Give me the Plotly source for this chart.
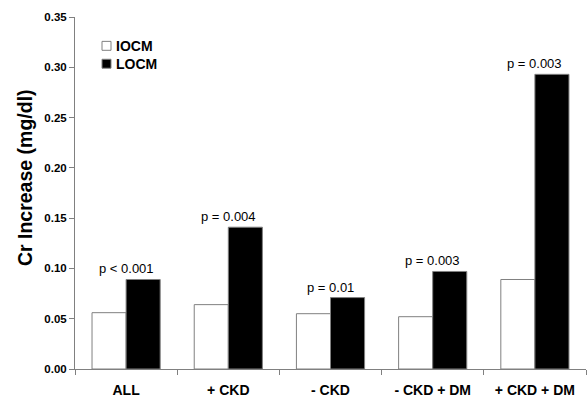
import plotly.graph_objects as go

categories = ["ALL", "+ CKD", "- CKD", "- CKD + DM", "+ CKD + DM"]
iocm = [0.056, 0.064, 0.055, 0.052, 0.089]
locm = [0.089, 0.141, 0.071, 0.097, 0.293]
p_labels = ["p < 0.001", "p = 0.004", "p = 0.01", "p = 0.003", "p = 0.003"]
series_names = ["IOCM", "LOCM"]
y_ticks = [0.0, 0.05, 0.10, 0.15, 0.20, 0.25, 0.30, 0.35]

FONT = "Liberation Sans, Arial, sans-serif"
GREY = "#808080"

fig = go.Figure()
fig.add_trace(go.Bar(x=categories, y=iocm, name=series_names[0],
                     marker=dict(color="white", line=dict(color=GREY, width=1)),
                     showlegend=False))
fig.add_trace(go.Bar(x=categories, y=locm, name=series_names[1],
                     marker=dict(color="black", line=dict(color=GREY, width=1)),
                     showlegend=False))

for c, v, t in zip(categories, locm, p_labels):
    fig.add_annotation(x=c, y=v, xref="x", yref="y", text=t, showarrow=False,
                       yanchor="bottom", yshift=1,
                       font=dict(family=FONT, size=13, color="black"))

# custom legend
L, R, T, B = 75, 586, 17, 371
W, H = R - L, B - T
def px(x):
    return (x - L) / W
def py(y):
    return (B - y) / H

legend_fill = ["white", "black"]
for i, (name, fill) in enumerate(zip(series_names, legend_fill)):
    cy = 46 + i * 18
    fig.add_shape(type="rect", xref="paper", yref="paper",
                  x0=px(102), x1=px(111), y0=py(cy + 4.5), y1=py(cy - 4.5),
                  fillcolor=fill, line=dict(color=GREY, width=1))
    fig.add_annotation(xref="paper", yref="paper", x=px(114), y=py(cy),
                       text=name, showarrow=False, xanchor="left", yanchor="middle",
                       font=dict(family=FONT, size=14, color="black", weight="bold"))

# y axis title
fig.add_annotation(xref="paper", yref="paper", x=px(25), y=py(179),
                   text="Cr Increase (mg/dl)", textangle=-90, showarrow=False,
                   xanchor="center", yanchor="middle",
                   font=dict(family=FONT, size=19.5, color="black", weight="bold"))

fig.update_layout(
    width=587, height=399,
    margin=dict(l=L, r=587 - R, t=T, b=399 - B),
    paper_bgcolor="white", plot_bgcolor="white",
    barmode="group", bargap=0.333, bargroupgap=0,
    font=dict(family=FONT, color="black"),
)
fig.update_xaxes(
    type="category", tickson="boundaries", showline=True, linecolor=GREY, linewidth=1,
    ticks="outside", ticklen=5, tickcolor=GREY, showgrid=False, zeroline=False,
    tickfont=dict(family=FONT, size=14, color="black", weight="bold"),
    ticklabelstandoff=8,
)
fig.update_yaxes(
    range=[0, 0.35], tickvals=y_ticks, tickformat=".2f",
    showline=True, linecolor=GREY, linewidth=1, ticks="outside", ticklen=5,
    tickcolor=GREY, showgrid=False, zeroline=False,
    tickfont=dict(family=FONT, size=11.5, color="black", weight="bold"),
)

fig.write_html("out.html")
